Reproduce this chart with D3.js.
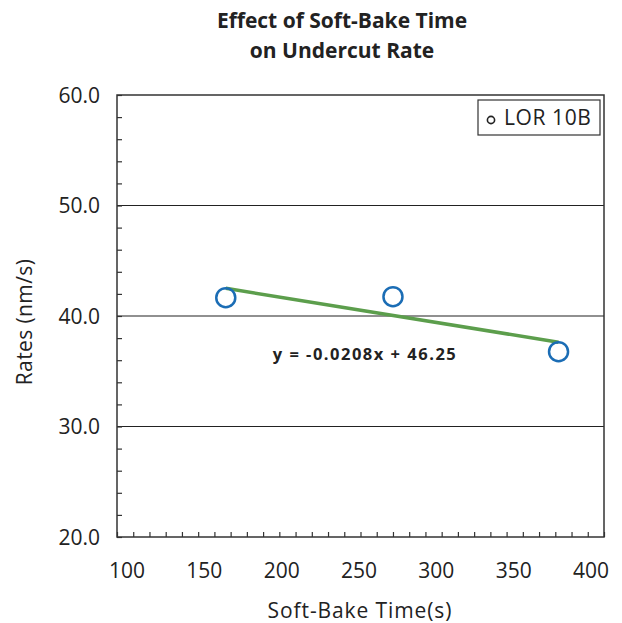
<!DOCTYPE html>
<html><head><meta charset="utf-8">
<script src="https://cdn.jsdelivr.net/npm/d3@7"></script>
<style>body{margin:0;background:#fff;} svg{display:block;}</style>
</head><body>
<script>
const bakeTimes = [167, 270, 372];
const rates = [41.66, 41.75, 36.77];
const seriesName = "LOR 10B";
const equationLabel = "y = -0.0208x + 46.25";
const titleLines = ["Effect of Soft-Bake Time", "on Undercut Rate"];
const xTicks = [100, 150, 200, 250, 300, 350, 400];
const yTicks = [20, 30, 40, 50, 60];
const gridValues = [30, 40, 50];

const W = 622, H = 623;
const m = {left: 117, right: 604, top: 95, bottom: 537};
const font = "'Open Sans', Lato, sans-serif";
const svg = d3.select("body").append("svg").attr("width", W).attr("height", H);

const x = d3.scaleLinear().domain([100, 400]).range([m.left, m.right]);
const y = d3.scaleLinear().domain([20, 60]).range([m.bottom, m.top]);
// tick labels in the original are spaced slightly tighter than the ticks
const xLabel = d3.scaleLinear().domain([100, 400]).range([127, 591]);

// title
svg.append("g").selectAll("text").data(titleLines).join("text")
  .attr("x", 342).attr("y", (d, i) => 28 + i * 30)
  .attr("text-anchor", "middle").attr("font-family", font)
  .attr("font-weight", "bold").attr("font-size", 21).attr("fill", "#222").text(d => d);

// gridlines
svg.append("g").selectAll("line").data(gridValues).join("line")
  .attr("x1", m.left).attr("x2", m.right).attr("y1", d => y(d)).attr("y2", d => y(d))
  .attr("stroke", "#222").attr("stroke-width", 1.2);

// minor ticks (inward)
const xAxis = d3.axisBottom(x).tickValues(d3.range(100, 401, 10)).tickSize(-5).tickFormat("");
const gx = svg.append("g").attr("transform", `translate(0,${m.bottom})`).call(xAxis);
gx.select(".domain").remove();
gx.selectAll("line").attr("stroke", "#333").attr("stroke-width", 1.2);

const yAxis = d3.axisLeft(y).tickValues(d3.range(20, 61, 2)).tickSize(-5).tickFormat("");
const gy = svg.append("g").attr("transform", `translate(${m.left},0)`).call(yAxis);
gy.select(".domain").remove();
gy.selectAll("line").attr("stroke", "#333").attr("stroke-width", 1.2);

// frame
svg.append("rect").attr("x", m.left).attr("y", m.top)
  .attr("width", m.right - m.left).attr("height", m.bottom - m.top)
  .attr("fill", "none").attr("stroke", "#333").attr("stroke-width", 1.5);

// tick labels
svg.append("g").selectAll("text").data(xTicks).join("text")
  .attr("x", d => xLabel(d)).attr("y", 578).attr("text-anchor", "middle")
  .attr("font-family", font).attr("font-size", 21).attr("fill", "#222").text(d => d);
svg.append("g").selectAll("text").data(yTicks).join("text")
  .attr("x", 100).attr("y", d => y(d) + 7.5).attr("text-anchor", "end")
  .attr("font-family", font).attr("font-size", 21).attr("fill", "#222").text(d => d.toFixed(1));

// axis titles
svg.append("text").attr("x", 360).attr("y", 618).attr("text-anchor", "middle")
  .attr("font-family", font).attr("font-size", 21).attr("letter-spacing", 0.9).attr("fill", "#222").text("Soft-Bake Time(s)");
svg.append("text").attr("transform", "translate(32,322) rotate(-90)").attr("text-anchor", "middle")
  .attr("font-family", font).attr("font-size", 21).attr("letter-spacing", 0.4).attr("fill", "#222").text("Rates (nm/s)");

// regression fit
const mx = d3.mean(bakeTimes), my = d3.mean(rates);
const slope = d3.sum(bakeTimes, (v, i) => (v - mx) * (rates[i] - my)) / d3.sum(bakeTimes, v => (v - mx) ** 2);
const icpt = my - slope * mx;
const xs = d3.extent(bakeTimes);
svg.append("line")
  .attr("x1", x(xs[0])).attr("y1", y(icpt + slope * xs[0]))
  .attr("x2", x(xs[1])).attr("y2", y(icpt + slope * xs[1]))
  .attr("stroke", "#5c9e4c").attr("stroke-width", 3.5);

// points
svg.append("g").selectAll("circle").data(bakeTimes).join("circle")
  .attr("cx", d => x(d)).attr("cy", (d, i) => y(rates[i])).attr("r", 9.5)
  .attr("fill", "none").attr("stroke", "#1b6db5").attr("stroke-width", 2.5);

// equation
svg.append("text").attr("x", 365).attr("y", 360).attr("text-anchor", "middle")
  .attr("font-family", font).attr("font-weight", "bold").attr("font-size", 16.5)
  .attr("letter-spacing", 1.5).attr("fill", "#222")
  .attr("xml:space", "preserve").text(equationLabel);

// legend
svg.append("rect").attr("x", 478).attr("y", 100).attr("width", 122).attr("height", 35)
  .attr("fill", "#fff").attr("stroke", "#333").attr("stroke-width", 1.2);
svg.append("circle").attr("cx", 491).attr("cy", 120).attr("r", 3.6)
  .attr("fill", "none").attr("stroke", "#222").attr("stroke-width", 1.6);
svg.append("text").attr("x", 504).attr("y", 125).attr("font-family", font)
  .attr("font-size", 21).attr("letter-spacing", 0.6).attr("fill", "#222").text(seriesName);
</script>
</body></html>
